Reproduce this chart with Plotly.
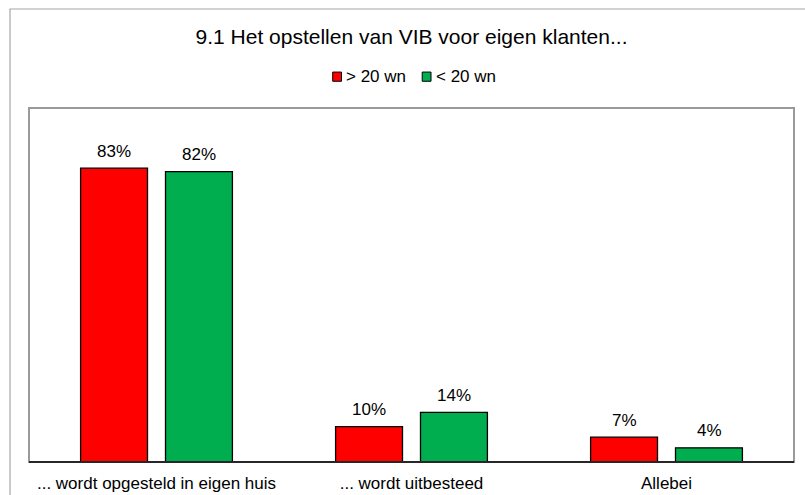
import plotly.graph_objects as go

categories = ["... wordt opgesteld in eigen huis", "... wordt uitbesteed", "Allebei"]
series_names = ["> 20 wn", "< 20 wn"]
big_firms = [83, 10, 7]
small_firms = [82, 14, 4]
colors = ["#ff0000", "#00ad4f"]

FONT = "Liberation Sans, Arial, sans-serif"
LABEL_SIZE = 17

fig = go.Figure()
for name, vals, col in zip(series_names, [big_firms, small_firms], colors):
    fig.add_trace(go.Bar(
        x=categories, y=vals, name=name,
        marker=dict(color=col, line=dict(color="#000000", width=1.3)),
        showlegend=False,
    ))

# value labels above each bar, shifted to the bar's slot inside the group
annotations = []
for side, vals in zip([-42.5, 42.5], [big_firms, small_firms]):
    for cat, v in zip(categories, vals):
        annotations.append(dict(x=cat, y=v, xref="x", yref="y", showarrow=False,
                                text=f"{v}%", xshift=side, yshift=17,
                                xanchor="center", yanchor="middle",
                                font=dict(family=FONT, size=LABEL_SIZE, color="#000000")))

# hand-built legend: small outlined square followed by label
legend_items = [(0.397, series_names[0], colors[0]), (0.514, series_names[1], colors[1])]
shapes = []
for x0, name, col in legend_items:
    shapes.append(dict(type="rect", xref="paper", yref="paper",
                       x0=x0, x1=x0 + 0.0115, y0=1.0755, y1=1.1015,
                       fillcolor=col, line=dict(color="#000000", width=1)))
    annotations.append(dict(xref="paper", yref="paper", x=x0 + 0.0150, y=1.089,
                            xanchor="left", yanchor="middle", showarrow=False,
                            text=name, font=dict(family=FONT, size=LABEL_SIZE, color="#000000")))

# outer chart frame
shapes.append(dict(type="rect", xref="paper", yref="paper",
                   x0=-0.0248, x1=1.03, y0=-0.12, y1=1.2797,
                   line=dict(color="#a6a6a6", width=1.2), fillcolor="rgba(0,0,0,0)", layer="below"))
# plot area frame (grey) and black baseline
shapes.append(dict(type="rect", xref="paper", yref="paper", x0=0, x1=1, y0=0, y1=1,
                   line=dict(color="#9a9a9a", width=2), fillcolor="rgba(0,0,0,0)"))
shapes.append(dict(type="line", xref="paper", yref="paper", x0=0, x1=1, y0=0, y1=0,
                   line=dict(color="#000000", width=1.5)))

fig.update_layout(
    width=805, height=495,
    margin=dict(l=29, r=11, t=108, b=33, autoexpand=False),
    paper_bgcolor="#ffffff", plot_bgcolor="#ffffff",
    barmode="group", bargap=0.334, bargroupgap=0.212,
    title=dict(text="9.1 Het opstellen van VIB voor eigen klanten...",
               x=0.5, xanchor="center", xref="paper", y=0.925, yanchor="middle",
               font=dict(family=FONT, size=21, color="#000000")),
    xaxis=dict(showline=False, ticks="", showgrid=False, ticklabelstandoff=9,
               automargin=False,
               tickfont=dict(family=FONT, size=LABEL_SIZE, color="#000000")),
    yaxis=dict(range=[0, 100], visible=False, showgrid=False, automargin=False),
    shapes=shapes, annotations=annotations,
    font=dict(family=FONT),
)

fig.write_html("out.html")
